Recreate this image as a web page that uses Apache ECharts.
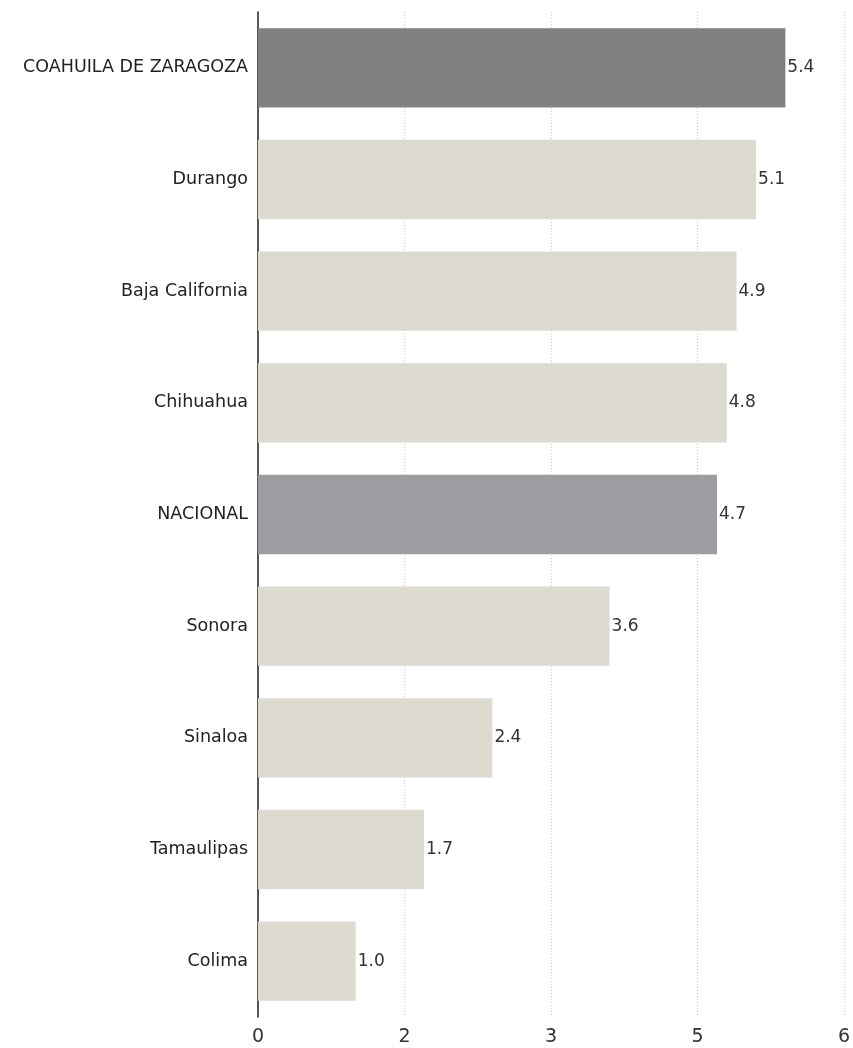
<!DOCTYPE html>
<html><head><meta charset="utf-8">
<script src="https://cdn.jsdelivr.net/npm/echarts@6/dist/echarts.min.js"></script>
<style>html,body{margin:0;padding:0;background:#fff}#c{width:853px;height:1048px}</style>
</head><body><div id="c"></div>
<script>
const categories = ["COAHUILA DE ZARAGOZA","Durango","Baja California","Chihuahua","NACIONAL","Sonora","Sinaloa","Tamaulipas","Colima"];
const values = [5.4, 5.1, 4.9, 4.8, 4.7, 3.6, 2.4, 1.7, 1.0];
const highlight = {"COAHUILA DE ZARAGOZA":"#808080","NACIONAL":"#9d9da1"};
const baseColor = "#dddad0";

const chart = echarts.init(document.getElementById('c'));
chart.setOption({
  animation:false,
  grid:{left:258,right:5,top:12,bottom:31,containLabel:false},
  xAxis:{type:'value',min:0,max:6,interval:1.5,
    axisLine:{show:false},axisTick:{show:false},
    splitLine:{show:true,lineStyle:{type:[1,2],color:'#c8c8c8',width:1}},
    axisLabel:{formatter:v=>String(Math.round(v)),fontSize:19,color:'#333',margin:11,fontFamily:'DejaVu Sans'}},
  yAxis:{type:'category',data:categories,inverse:true,
    axisLine:{show:true,lineStyle:{color:'#222',width:1.5}},axisTick:{show:false},
    axisLabel:{fontSize:17.5,color:'#222',margin:10,fontFamily:'DejaVu Sans'}},
  series:[{type:'bar',barCategoryGap:'29%',
    data:values.map((v,i)=>({value:v,itemStyle:{color:highlight[categories[i]]||baseColor}})),
    label:{show:true,position:'right',distance:2,fontSize:17,color:'#333',fontFamily:'DejaVu Sans',formatter:p=>p.value.toFixed(1)}}]
});
</script></body></html>
